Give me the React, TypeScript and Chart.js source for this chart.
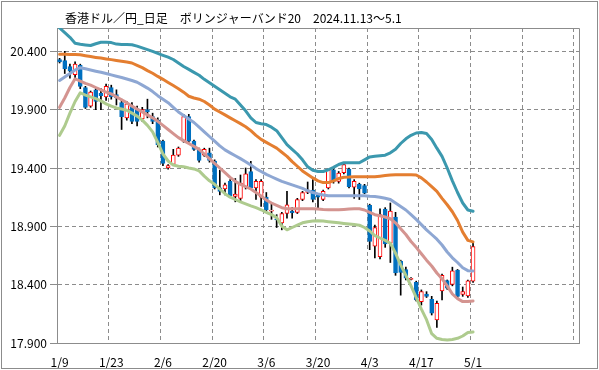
import React, { useEffect, useRef } from 'react';
import { Chart, registerables } from 'chart.js';
Chart.register(...registerables);

const TITLE = '香港ドル／円_日足　ボリンジャーバンド20　2024.11.13～5.1';
const dateLabels = ['1/9', '1/23', '2/6', '2/20', '3/6', '3/20', '4/3', '4/17', '5/1'];
const SLOTS = 101;
const LABEL_EVERY = 10;
const yTicks = [17.9, 18.4, 18.9, 19.4, 19.9, 20.4];
const Y_MIN = 17.9;
const Y_MAX = 20.6;

const open = [20.33,20.32,20.27,20.20,20.28,20.09,19.93,20.07,20.04,20.01,
  20.09,20.03,19.96,19.83,19.93,19.91,19.82,19.90,19.84,19.81,
  19.63,19.40,19.43,19.51,19.63,19.84,19.63,19.56,19.51,19.53,
  19.46,19.23,19.22,19.285,19.156,19.14,19.24,19.37,19.23,19.15,
  19.15,19.03,18.965,18.93,19.01,19.03,19.02,19.13,19.19,19.21,
  19.17,19.13,19.23,19.385,19.285,19.36,19.39,19.236,19.26,19.25,
  19.08,18.73,18.64,19.047,18.755,18.98,18.60,18.53,18.445,18.42,
  18.255,18.32,18.275,18.097,18.346,18.435,18.403,18.526,18.317,18.303,
  18.43];
const close = [20.31,20.25,20.23,20.29,20.10,19.92,20.05,19.97,20.02,20.10,
  20.01,20.00,19.84,19.95,19.80,19.80,19.90,19.88,19.80,19.60,
  19.44,19.42,19.51,19.57,19.84,19.63,19.56,19.465,19.56,19.465,
  19.23,19.20,19.256,19.16,19.176,19.27,19.35,19.23,19.285,19.285,
  19.04,19.04,18.955,19.01,19.085,19.015,19.13,19.19,19.21,19.13,
  19.15,19.20,19.385,19.285,19.356,19.43,19.24,19.285,19.22,19.185,
  18.77,18.89,19.00,18.75,19.03,18.50,18.505,18.455,18.455,18.27,
  18.34,18.30,18.155,18.24,18.48,18.37,18.518,18.30,18.34,18.432,
  18.727];
const high = [20.34,20.40,20.29,20.31,20.29,20.10,20.06,20.09,20.08,20.12,
  20.11,20.07,19.99,19.97,19.96,19.93,19.92,19.99,19.87,19.83,
  19.64,19.43,19.56,19.58,19.86,19.86,19.64,19.57,19.57,19.57,
  19.47,19.38,19.27,19.30,19.31,19.34,19.40,19.457,19.30,19.30,
  19.19,19.10,19.00,19.02,19.20,19.06,19.14,19.20,19.28,19.30,
  19.17,19.21,19.39,19.40,19.37,19.44,19.40,19.30,19.27,19.26,
  19.09,18.91,19.05,19.06,19.10,19.02,18.61,18.55,18.46,18.43,
  18.355,18.34,18.30,18.26,18.49,18.44,18.55,18.53,18.38,18.44,
  18.755];
const low = [20.30,20.21,20.17,20.16,20.08,19.91,19.92,19.90,19.90,19.98,
  19.99,19.94,19.73,19.81,19.78,19.76,19.80,19.83,19.78,19.58,
  19.42,19.39,19.42,19.50,19.62,19.62,19.55,19.45,19.50,19.45,
  19.22,19.17,19.17,19.15,19.11,19.12,19.22,19.22,19.13,19.07,
  19.02,18.96,18.89,18.87,18.97,18.97,19.01,19.12,19.18,19.11,
  19.06,19.12,19.22,19.27,19.27,19.35,19.23,19.14,19.13,19.18,
  18.70,18.63,18.62,18.72,18.59,18.48,18.31,18.44,18.44,18.26,
  18.225,18.29,18.14,18.034,18.27,18.36,18.39,18.29,18.30,18.29,
  18.42];

const upper2 = [20.60,20.56,20.52,20.47,20.46,20.455,20.45,20.465,20.478,20.478,
  20.475,20.462,20.458,20.458,20.456,20.445,20.43,20.415,20.40,20.383,
  20.366,20.35,20.33,20.30,20.27,20.245,20.22,20.195,20.16,20.13,
  20.10,20.07,20.04,20.01,19.99,19.94,19.89,19.83,19.79,19.78,
  19.772,19.75,19.72,19.66,19.60,19.56,19.52,19.47,19.41,19.38,
  19.37,19.37,19.385,19.405,19.43,19.445,19.445,19.445,19.445,19.47,
  19.495,19.50,19.505,19.51,19.53,19.56,19.61,19.65,19.68,19.70,
  19.705,19.695,19.645,19.57,19.50,19.40,19.29,19.19,19.10,19.04,
  19.03];
const upper1 = [20.375,20.375,20.373,20.372,20.37,20.362,20.355,20.348,20.342,20.335,
  20.329,20.322,20.315,20.308,20.30,20.28,20.26,20.235,20.212,20.185,
  20.16,20.133,20.107,20.08,20.05,20.015,20.0,19.99,19.97,19.94,
  19.905,19.88,19.855,19.83,19.805,19.78,19.754,19.72,19.68,19.645,
  19.62,19.595,19.57,19.535,19.50,19.455,19.415,19.375,19.345,19.315,
  19.29,19.275,19.275,19.29,19.31,19.32,19.322,19.325,19.325,19.325,
  19.325,19.325,19.33,19.335,19.34,19.342,19.342,19.342,19.342,19.34,
  19.315,19.28,19.24,19.20,19.14,19.085,19.025,18.95,18.85,18.78,
  18.767];
const middle = [20.15,20.18,20.21,20.24,20.26,20.25,20.24,20.23,20.22,20.21,
  20.198,20.187,20.176,20.163,20.15,20.135,20.11,20.085,20.055,20.02,
  19.99,19.96,19.92,19.88,19.85,19.82,19.79,19.75,19.71,19.67,
  19.63,19.59,19.555,19.53,19.505,19.48,19.454,19.425,19.395,19.37,
  19.345,19.325,19.305,19.285,19.27,19.255,19.24,19.225,19.205,19.19,
  19.178,19.168,19.162,19.162,19.162,19.162,19.162,19.162,19.162,19.162,
  19.158,19.155,19.15,19.14,19.13,19.10,19.07,19.04,19.0,18.96,
  18.915,18.87,18.83,18.79,18.74,18.68,18.63,18.59,18.545,18.52,
  18.518];
const lower1 = [19.92,20.0,20.09,20.165,20.145,20.125,20.11,20.09,20.07,20.05,
  20.035,20.01,19.985,19.96,19.93,19.905,19.88,19.855,19.83,19.80,
  19.765,19.73,19.695,19.66,19.635,19.61,19.585,19.56,19.52,19.48,
  19.44,19.40,19.36,19.32,19.285,19.26,19.24,19.22,19.19,19.16,
  19.125,19.10,19.08,19.06,19.05,19.05,19.05,19.05,19.05,19.05,
  19.048,19.045,19.043,19.042,19.042,19.045,19.048,19.05,19.05,19.04,
  19.02,19.0,18.99,18.98,18.965,18.93,18.88,18.83,18.77,18.72,
  18.665,18.61,18.56,18.50,18.45,18.39,18.32,18.28,18.255,18.255,
  18.26];
const lower2 = [19.68,19.76,19.87,19.97,20.045,20.025,20.01,19.995,19.975,19.95,
  19.93,19.915,19.905,19.895,19.87,19.845,19.81,19.765,19.71,19.62,
  19.52,19.46,19.425,19.415,19.41,19.40,19.392,19.375,19.33,19.29,
  19.26,19.22,19.18,19.15,19.13,19.11,19.093,19.075,19.06,19.042,
  19.02,19.0,18.975,18.90,18.87,18.89,18.91,18.93,18.94,18.945,
  18.947,18.945,18.94,18.935,18.93,18.925,18.92,18.915,18.91,18.89,
  18.86,18.82,18.80,18.78,18.755,18.67,18.57,18.48,18.39,18.29,
  18.19,18.10,17.98,17.94,17.93,17.926,17.93,17.94,17.96,17.99,
  17.995];

const FONT = '"Noto Sans CJK JP", "Noto Sans", sans-serif';
const GRID = '#8c8c8c';
const AXIS = '#8c8c8c';
const TEAL = '#3b98ae';
const ORANGE = '#e47e30';
const PERI = '#8ea7d3';
const PINK = '#d49490';
const GREEN = '#aecb8e';
const CANDLE_BLUE = '#0070c0';
const CANDLE_RED = '#ff0000';

export default function App() {
  const ref = useRef<HTMLCanvasElement>(null);
  useEffect(() => {
    document.body.style.margin = '0';
    const labels = Array.from({ length: SLOTS }, (_, i) =>
      i % LABEL_EVERY === 0 && dateLabels[i / LABEL_EVERY] ? dateLabels[i / LABEL_EVERY] : ''
    );
    const up = close.map((c, i) => c >= open[i]);
    const lineDs = (label: string, data: number[], color: string) => ({
      type: 'line' as const,
      label,
      data,
      borderColor: color,
      backgroundColor: color,
      borderWidth: 3,
      pointRadius: 0,
      tension: 0,
      borderJoinStyle: 'round' as const,
      borderCapStyle: 'round' as const,
      order: 0,
    });
    const framePlugin = {
      id: 'frame',
      beforeDraw(chart: any) {
        const ctx = chart.ctx;
        ctx.save();
        ctx.fillStyle = '#ffffff';
        ctx.fillRect(0, 0, chart.width, chart.height);
        ctx.restore();
      },
      beforeDatasetsDraw(chart: any) {
        const { ctx, chartArea } = chart;
        ctx.save();
        ctx.strokeStyle = AXIS;
        ctx.lineWidth = 1;
        ctx.beginPath();
        ctx.moveTo(Math.round(chartArea.left) + 0.5, Math.round(chartArea.top) + 0.5);
        ctx.lineTo(Math.round(chartArea.right) + 0.5, Math.round(chartArea.top) + 0.5);
        ctx.lineTo(Math.round(chartArea.right) + 0.5, Math.round(chartArea.bottom) + 0.5);
        ctx.stroke();
        ctx.restore();
      },
      afterDraw(chart: any) {
        const ctx = chart.ctx;
        ctx.save();
        ctx.strokeStyle = '#8c8c8c';
        ctx.lineWidth = 1;
        ctx.strokeRect(1.5, 1.5, chart.width - 3, chart.height - 3);
        ctx.fillStyle = '#000000';
        ctx.font = '12px ' + FONT;
        ctx.textBaseline = 'middle';
        ctx.textAlign = 'left';
        ctx.fillText(TITLE, 65, 18);
        ctx.restore();
      },
    };
    const chart = new Chart(ref.current as HTMLCanvasElement, {
      type: 'bar',
      data: {
        labels,
        datasets: [
          lineDs('+2σ', upper2, TEAL),
          lineDs('+1σ', upper1, ORANGE),
          lineDs('MA20', middle, PERI),
          lineDs('-1σ', lower1, PINK),
          lineDs('-2σ', lower2, GREEN),
          {
            type: 'bar',
            label: 'body',
            data: open.map((o, i) => [o, close[i]]) as any,
            backgroundColor: up.map((u) => (u ? '#ffffff' : CANDLE_BLUE)),
            borderColor: up.map((u) => (u ? CANDLE_RED : CANDLE_BLUE)),
            borderWidth: 1,
            borderSkipped: false,
            barThickness: 4,
            grouped: false,
            order: 1,
          },
          {
            type: 'bar',
            label: 'wick',
            data: low.map((l, i) => [l, high[i]]) as any,
            backgroundColor: '#000000',
            borderWidth: 0,
            barThickness: 1,
            grouped: false,
            order: 2,
          },
        ] as any,
      },
      options: {
        responsive: false,
        animation: false,
        devicePixelRatio: 1,
        layout: { padding: { left: 0, right: 20, top: 28, bottom: 0 } },
        plugins: { legend: { display: false }, tooltip: { enabled: false }, title: { display: false } },
        scales: {
          x: {
            offset: true,
            afterFit: (s: any) => { s.height = 27; },
            ticks: {
              autoSkip: false,
              maxRotation: 0,
              minRotation: 0,
              padding: 12,
              color: '#000000',
              font: { family: FONT, size: 12 },
            },
            grid: {
              offset: true,
              drawTicks: false,
              color: (c: any) => (c.index % LABEL_EVERY === 0 && c.index < SLOTS ? GRID : 'rgba(0,0,0,0)'),
            },
            border: { display: true, color: AXIS, width: 1, dash: [4, 3] },
          },
          y: {
            min: Y_MIN,
            max: Y_MAX,
            afterBuildTicks: (s: any) => { s.ticks = yTicks.map((v) => ({ value: v })); },
            afterFit: (s: any) => { s.width = 57; },
            ticks: {
              padding: 3,
              color: '#000000',
              font: { family: FONT, size: 12 },
              callback: (v: any) => Number(v).toFixed(3),
            },
            grid: { color: GRID, tickLength: 7, tickColor: GRID, tickBorderDash: [] as number[] } as any,
            border: { display: true, color: AXIS, width: 1, dash: [4, 3] },
          },
        },
      },
      plugins: [framePlugin],
    } as any);
    return () => chart.destroy();
  }, []);
  return (
    <div style={{ position: 'absolute', left: 0, top: 0, width: 599, height: 370 }}>
      <canvas ref={ref} width={599} height={370} style={{ display: 'block', width: 599, height: 370 }} />
    </div>
  );
}
